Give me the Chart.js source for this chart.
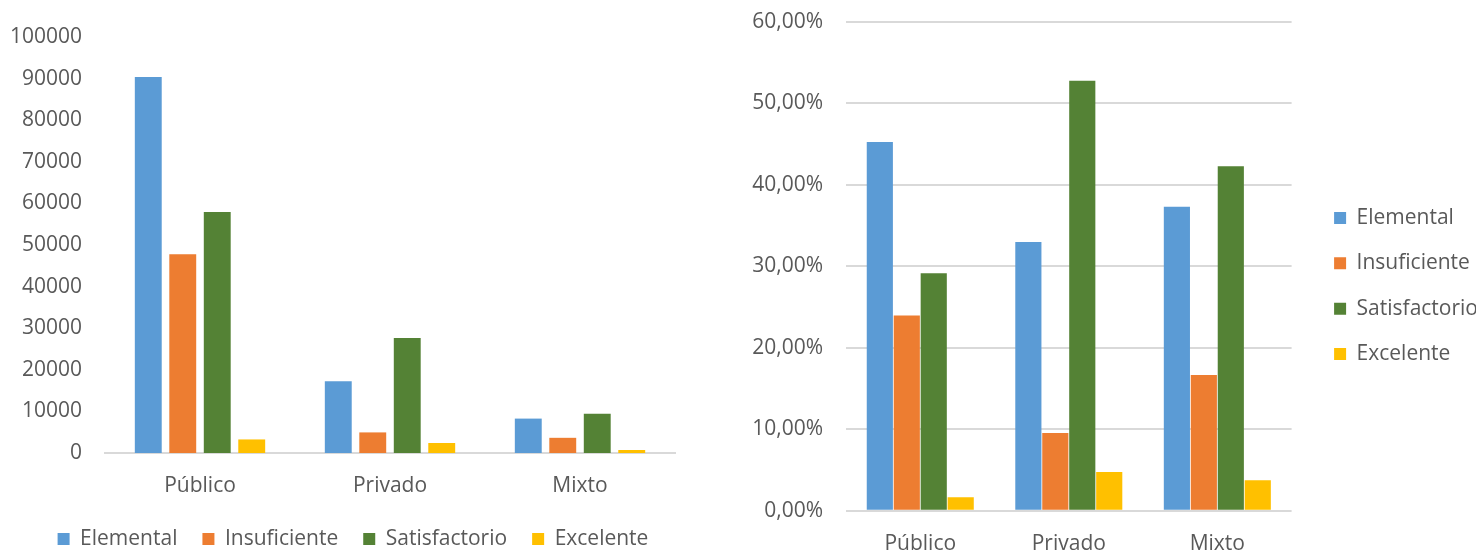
<!DOCTYPE html>
<html>
<head>
<meta charset="utf-8">
<script src="https://cdn.jsdelivr.net/npm/chart.js@4/dist/chart.umd.min.js"></script>
<style>
  html, body { margin: 0; padding: 0; background: #ffffff; }
  body { width: 1476px; height: 550px; position: relative; overflow: hidden; }
  #wrapL { position: absolute; left: 0; top: 0; width: 706px; height: 560px; }
  #wrapR { position: absolute; left: 700px; top: 0; width: 788px; height: 550px; }
  canvas { display: block; }
</style>
</head>
<body>
<div id="wrapL"><canvas id="left" width="706" height="560"></canvas></div>
<div id="wrapR"><canvas id="right" width="788" height="550"></canvas></div>
<script>
// ---- data ----
const categories = ['Público', 'Privado', 'Mixto'];
const seriesNames = ['Elemental', 'Insuficiente', 'Satisfactorio', 'Excelente'];
// counts (left chart)
const elementalCount     = [90400, 17270, 8270];
const insuficienteCount  = [47750, 4950, 3650];
const satisfactorioCount = [57950, 27670, 9420];
const excelenteCount     = [3260, 2400, 720];
// percentages (right chart)
const elementalPct     = [45.28, 32.98, 37.32];
const insuficientePct  = [23.96, 9.55, 16.67];
const satisfactorioPct = [29.16, 52.80, 42.28];
const excelentePct     = [1.65, 4.75, 3.73];
// tick labels
const countTicks = ['0', '10000', '20000', '30000', '40000', '50000', '60000', '70000', '80000', '90000', '100000'];
const pctTicks = ['0,00%', '10,00%', '20,00%', '30,00%', '40,00%', '50,00%', '60,00%'];

const colors = ['#5B9BD5', '#ED7D31', '#548235', '#FFC000'];
const textColor = '#595959';
const gridColor = '#D9D9D9';
const FONT = "'Open Sans', 'Noto Sans', sans-serif";

Chart.defaults.font.family = FONT;
Chart.defaults.font.size = 21;
Chart.defaults.color = textColor;
Chart.defaults.animation = false;

function makeSets(arrs, barPct) {
  return arrs.map((d, i) => ({
    label: seriesNames[i],
    data: d,
    backgroundColor: colors[i],
    borderWidth: 0,
    categoryPercentage: 0.726,
    barPercentage: barPct
  }));
}

function spacer(w) {
  return {
    type: 'linear', position: 'right', display: true,
    grid: { display: false, drawTicks: false },
    border: { display: false },
    ticks: { display: false },
    afterFit: (s) => { s.width = w; }
  };
}

// ---- left chart ----
new Chart(document.getElementById('left'), {
  type: 'bar',
  data: {
    labels: categories,
    datasets: makeSets([elementalCount, insuficienteCount, satisfactorioCount, excelenteCount], 0.78)
  },
  options: {
    responsive: false,
    layout: { padding: { left: 0, right: 0, top: 37, bottom: 0.5 } },
    plugins: {
      legend: {
        position: 'bottom',
        labels: { boxWidth: 12, boxHeight: 12, padding: 25, font: { size: 21 }, color: textColor }
      },
      tooltip: { enabled: false }
    },
    scales: {
      x: {
        grid: { display: false, drawTicks: false },
        border: { display: true, color: gridColor, width: 2 },
        ticks: { padding: 20, font: { size: 21 }, color: textColor },
        afterFit: (s) => { s.height = 50.5; }
      },
      y: {
        min: 0, max: 100000,
        grid: { display: false, drawTicks: false },
        border: { display: false },
        ticks: {
          stepSize: 10000, padding: 23, font: { size: 21 }, color: textColor,
          callback: (v, i) => countTicks[i]
        },
        afterFit: (s) => { s.width = 105; }
      },
      gap: spacer(31)
    }
  }
});

// ---- right chart ----
new Chart(document.getElementById('right'), {
  type: 'bar',
  data: {
    labels: categories,
    datasets: makeSets([elementalPct, insuficientePct, satisfactorioPct, excelentePct], 0.97)
  },
  options: {
    responsive: false,
    layout: { padding: { left: 0, right: 0, top: 22, bottom: 0 } },
    plugins: {
      legend: {
        position: 'right',
        align: 'center',
        maxWidth: 220,
        labels: { boxWidth: 12, boxHeight: 12, padding: 24.3, font: { size: 21 }, color: textColor }
      },
      tooltip: { enabled: false }
    },
    scales: {
      x: {
        grid: { display: false, drawTicks: false },
        border: { display: false },
        ticks: { padding: 21, font: { size: 21 }, color: textColor },
        afterFit: (s) => { s.height = 39.3; }
      },
      y: {
        min: 0, max: 60,
        grid: { display: true, color: gridColor, lineWidth: 2, drawTicks: true, tickLength: 23, tickColor: 'rgba(0,0,0,0)' },
        border: { display: false },
        ticks: {
          stepSize: 10, padding: 0, font: { size: 21 }, color: textColor,
          callback: (v, i) => pctTicks[i]
        },
        afterFit: (s) => { s.width = 146; }
      },
      gap: spacer(18.2)
    }
  }
});
</script>
</body>
</html>
